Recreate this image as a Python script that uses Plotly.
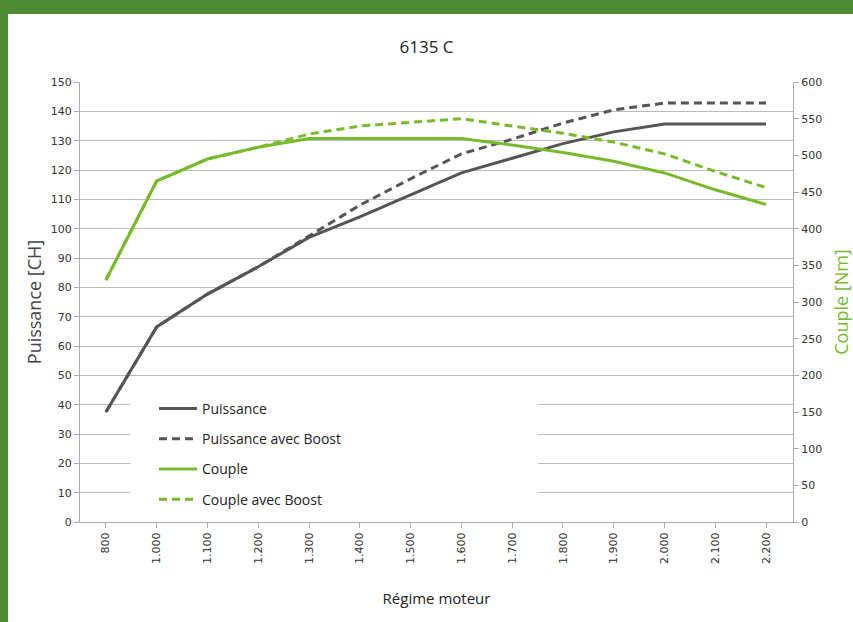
import plotly.graph_objects as go

categories = ["800", "1.000", "1.100", "1.200", "1.300", "1.400", "1.500", "1.600",
              "1.700", "1.800", "1.900", "2.000", "2.100", "2.200"]
puissance = [37.5, 66.5, 77.7, 87, 97, 104, 111.5, 119, 124, 129, 133, 135.7, 135.7, 135.7]
puissance_boost = [37.5, 66.5, 77.7, 87, 97.5, 108, 117, 125.5, 130.5, 136, 140.5, 142.8, 142.8, 142.8]
couple = [330, 465, 495, 511, 523, 523, 523, 523, 514, 504, 492, 476, 453, 433]
couple_boost = [330, 465, 495, 511, 529, 540, 545, 550, 540, 530, 518, 502, 478, 456]

DARK = "#555555"
GREEN = "#77bb2a"
BORDER = "#4e8b35"
W, H = 853, 622
L, R, T, B = 80, 60, 82, 100

fig = go.Figure()
fig.add_trace(go.Scatter(x=categories, y=puissance, name="Puissance", mode="lines",
                         legendgroup="a", line=dict(color=DARK, width=3)))
fig.add_trace(go.Scatter(x=categories, y=puissance_boost, name="Puissance avec Boost", mode="lines",
                         legendgroup="b", line=dict(color=DARK, width=3, dash="8px,5px")))
fig.add_trace(go.Scatter(x=categories, y=couple, name="Couple", mode="lines", yaxis="y2",
                         legendgroup="c", line=dict(color=GREEN, width=3)))
fig.add_trace(go.Scatter(x=categories, y=couple_boost, name="Couple avec Boost", mode="lines", yaxis="y2",
                         legendgroup="d", line=dict(color=GREEN, width=3, dash="8px,5px")))

pw = W - L - R
ph = H - T - B
shapes = [
    # white patch behind legend (covers gridlines)
    dict(type="rect", xref="paper", yref="paper", x0=(130 - L) / pw, x1=(538 - L) / pw,
         y0=(522 - 512) / ph, y1=(522 - 394) / ph, fillcolor="white", line_width=0, layer="above"),
    dict(type="rect", xref="paper", yref="paper", x0=-L / pw, x1=(W - L) / pw,
         y0=(H - B - 14) / ph, y1=(H - B) / ph + 0.01, fillcolor=BORDER, line_width=0, layer="above"),
    dict(type="rect", xref="paper", yref="paper", x0=-L / pw, x1=(8 - L) / pw,
         y0=-B / ph - 0.01, y1=(H - B) / ph + 0.01, fillcolor=BORDER, line_width=0, layer="above"),
]

fig.update_layout(
    width=W, height=H,
    margin=dict(l=L, r=R, t=T, b=B, autoexpand=False),
    paper_bgcolor="white", plot_bgcolor="white",
    font=dict(family="Open Sans", color="#333333"),
    title=dict(text="6135 C", x=0.5, xanchor="center", y=1 - 47 / H, yanchor="middle",
               font=dict(family="Open Sans", size=17, color="#222222")),
    showlegend=True,
    legend=dict(x=(154 - L) / pw, y=(522 - 393) / ph, xanchor="left", yanchor="top",
                bgcolor="rgba(0,0,0,0)", borderwidth=0, traceorder="grouped", tracegroupgap=9,
                itemwidth=38,
                font=dict(family="Open Sans", size=14, color="#222222")),
    xaxis=dict(type="category", range=[-0.51, 13.53], tickangle=-90, automargin=False,
               showline=True, linecolor="#aaaaaa", ticks="outside", tickcolor="#aaaaaa",
               ticklen=5, showgrid=False,
               tickfont=dict(family="DejaVu Sans", size=11, color="#333333"),
               title=dict(text="Régime moteur", font=dict(family="Open Sans", size=15, color="#222222"),
                          standoff=30)),
    yaxis=dict(range=[0, 150], dtick=10, showline=True, linecolor="#aaaaaa", ticks="outside",
               tickcolor="#aaaaaa", ticklen=5, gridcolor="#bbbbbb", gridwidth=1, zeroline=False,
               automargin=False,
               tickfont=dict(family="DejaVu Sans", size=11, color="#333333"),
               title=dict(text="Puissance [CH]", font=dict(family="Open Sans", size=18, color="#444444"),
                          standoff=4)),
    yaxis2=dict(range=[0, 600], dtick=50, overlaying="y", side="right", showline=True,
                linecolor="#aaaaaa", ticks="outside", tickcolor="#aaaaaa", ticklen=5,
                showgrid=False, zeroline=False, automargin=False,
                tickfont=dict(family="DejaVu Sans", size=11, color="#333333"),
                title=dict(text="Couple [Nm]", font=dict(family="Open Sans", size=18, color=GREEN),
                           standoff=20)),
    shapes=shapes,
)

fig.write_html("out.html", config={"displayModeBar": False})
with open("out.html", "r", encoding="utf-8") as f:
    html = f.read()
html = html.replace("<body>", '<body style="margin:0;padding:0;overflow:hidden">', 1)
html = html.replace("<head>", '<head><style>html,body{margin:0;padding:0;}</style>', 1)
with open("out.html", "w", encoding="utf-8") as f:
    f.write(html)
